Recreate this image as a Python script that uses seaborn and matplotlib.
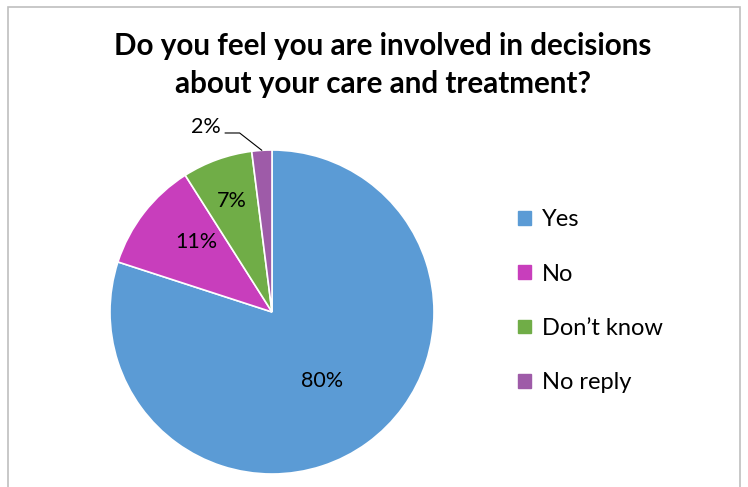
import numpy as np
import matplotlib
matplotlib.use("Agg")
import matplotlib.pyplot as plt
import seaborn as sns

categories = ["Yes", "No", "Don\u2019t know", "No reply"]
values = [80, 11, 7, 2]
colors = ["#5B9BD5", "#C83EBC", "#70AD47", "#9E5BA8"]
title = "Do you feel you are involved in decisions\nabout your care and treatment?"

sns.set_theme(style="white")
plt.rcParams['font.family'] = ['Lato', 'DejaVu Sans']
plt.rcParams['text.color'] = 'black'

W, H = 748, 487
fig = plt.figure(figsize=(W / 100, H / 100), dpi=100)

# border
fig.add_artist(plt.Rectangle((8 / W, -0.05), (740 - 8) / W, 1.05 - 7 / H,
                             transform=fig.transFigure, fill=False,
                             edgecolor="#BFBFBF", linewidth=1.2))

cx, cy, R = 272, 312, 162
ax = fig.add_axes([(cx - R) / W, (H - cy - R) / H, 2 * R / W, 2 * R / H])
pal = sns.color_palette(colors)
wedges, _ = ax.pie(values, colors=pal, startangle=90, counterclock=False,
                   wedgeprops=dict(edgecolor="white", linewidth=1.2))
ax.set_xlim(-1, 1)
ax.set_ylim(-1, 1)
ax.set_aspect("equal")
ax.axis("off")

label_dist = [0.53, 0.64, 0.73, None]
label_shift = [0, -5, 0, 0]
for w, v, d, s in zip(wedges, values, label_dist, label_shift):
    ang = np.deg2rad((w.theta1 + w.theta2) / 2 + s)
    x, y = np.cos(ang), np.sin(ang)
    if d is not None:
        ax.text(d * x, d * y, f"{v}%", ha="center", va="center", fontsize=15.5, color="black")
    else:
        ax.annotate("", xy=(x, y), xytext=(-0.29, 1.105),
                    arrowprops=dict(arrowstyle="-", color="black", lw=0.8,
                                    connectionstyle="angle,angleA=0,angleB=142,rad=0",
                                    shrinkA=0, shrinkB=0))
        ax.text(-0.315, 1.14, f"{v}%", ha="right", va="center", fontsize=15.5, color="black")

fig.text(0.5 * (113 + 653) / W, 1 - 65 / H, title, ha="center", va="center",
         fontsize=21.3, fontweight="bold", linespacing=1.42)

handles = [plt.Rectangle((0, 0), 1, 1, color=c) for c in pal]
fig.legend(handles, categories, loc="upper left", bbox_to_anchor=(497 / W, 1 - 188 / H),
           frameon=False, fontsize=17, handlelength=0.52, handleheight=0.52,
           handletextpad=0.5, labelspacing=1.41)

fig.savefig("out.png", dpi=100)
